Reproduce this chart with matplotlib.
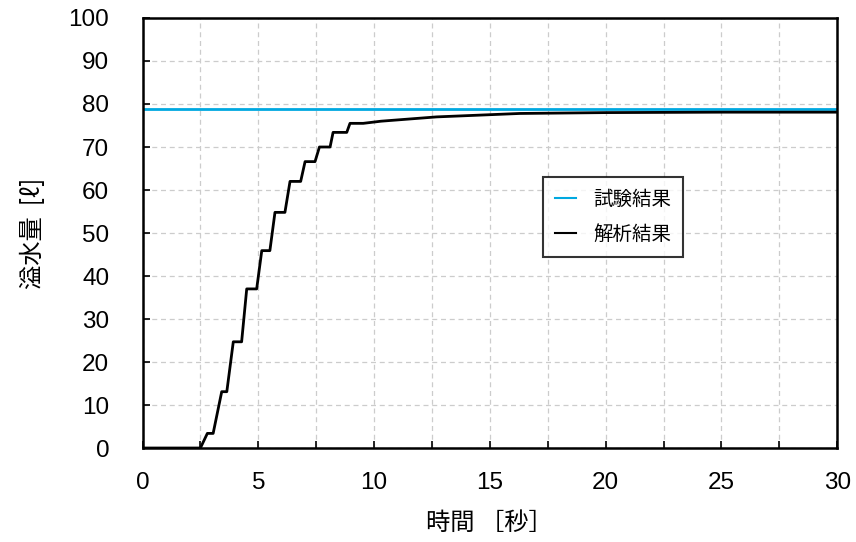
import numpy as np
import matplotlib
matplotlib.use("Agg")
import matplotlib.pyplot as plt

plt.rcParams['font.family'] = ['Noto Sans CJK JP', 'DejaVu Sans']

# test result (constant line)
test_value = 78.8

# analysis result: staircase curve (time [s], overflow [l])
step_start = [2.8, 3.42, 3.92, 4.5, 5.15, 5.72, 6.37, 7.02, 7.64, 8.23, 8.96]
step_end = [3.05, 3.64, 4.28, 4.93, 5.5, 6.15, 6.83, 7.45, 8.1, 8.82, 9.53]
step_level = [3.4, 13.1, 24.7, 37.0, 45.9, 54.8, 62.0, 66.6, 70.0, 73.4, 75.5]
tail_t = [10.3, 12.7, 16.3, 20.0, 25.0, 30.0]
tail_v = [76.0, 77.0, 77.8, 78.0, 78.1, 78.1]

t = [0.0, 2.5]
v = [0.0, 0.0]
for a, b, lv in zip(step_start, step_end, step_level):
    t += [a, b]
    v += [lv, lv]
t += tail_t
v += tail_v

fig = plt.figure(figsize=(8.56, 5.42), dpi=100)
ax = fig.add_axes([0.1665, 0.1734, 0.8115, 0.7934])

ax.axhline(test_value, color='#00a8e0', lw=2, label='試験結果')
ax.plot(t, v, color='black', lw=2, label='解析結果', solid_joinstyle='round')

ax.set_xlim(0, 30)
ax.set_ylim(0, 100)
ax.set_xticks(np.arange(0, 31, 5))
ax.set_xticks(np.arange(0, 31, 2.5), minor=True)
ax.set_yticks(np.arange(0, 101, 10))
ax.grid(True, which='both', ls=(0, (4, 3)), color='#cccccc', lw=0.9)
ax.tick_params(direction='in', length=5, width=1.2, labelsize=17.5,
               which='both')
ax.tick_params(axis='y', pad=24)
ax.tick_params(axis='x', pad=17)
for lab in ax.get_xticklabels() + ax.get_yticklabels():
    lab.set_family(['Liberation Sans', 'DejaVu Sans'])
for s in ax.spines.values():
    s.set_linewidth(1.8)

ax.set_xlabel('時間 ［秒］', fontsize=17.5, labelpad=12)
ax.set_ylabel('溢水量  [ℓ]', fontsize=17.5, labelpad=16)

leg = ax.legend(loc='upper left', bbox_to_anchor=(543 / 856, 1 - 177 / 542),
                bbox_transform=fig.transFigure, fontsize=14, frameon=True,
                fancybox=False, edgecolor='black', handlelength=1.1,
                handletextpad=0.9, borderpad=0.6, labelspacing=0.75,
                borderaxespad=0)
leg.get_frame().set_linewidth(1.5)
for ln in leg.get_lines():
    ln.set_linewidth(1.5)

fig.savefig('out.png', dpi=100)
